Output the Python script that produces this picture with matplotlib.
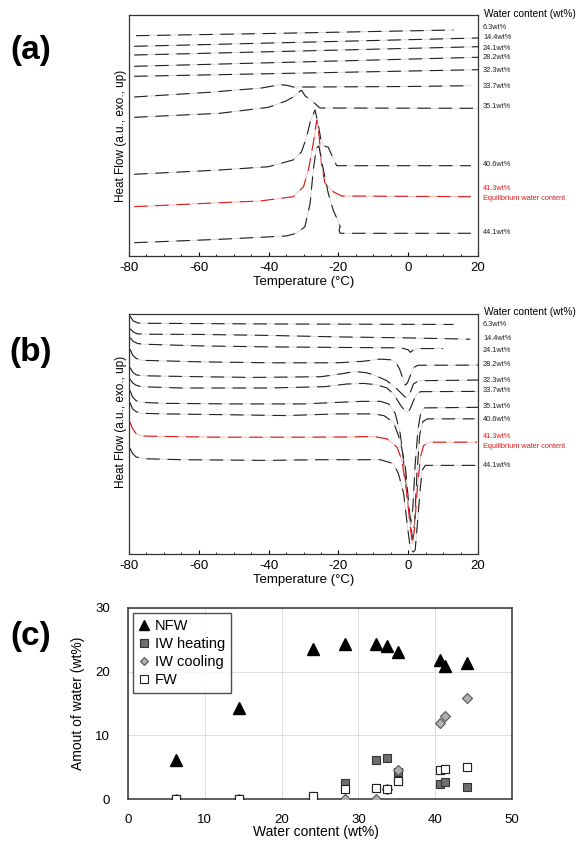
import matplotlib
matplotlib.use("Agg")
import matplotlib.pyplot as plt
from matplotlib.ticker import MultipleLocator

plt.rcParams["font.family"] = ["Liberation Sans", "DejaVu Sans"]
plt.rcParams["axes.unicode_minus"] = False

# ---- panel (a): cooling thermograms, (temperature degC, heat flow a.u.) ----
cool_63 = [(-78.0, 220.3), (-40, 222.5), (13, 226)]
cool_144 = [(-78.5, 209.7), (20, 218)]
cool_241 = [(-78.5, 201), (20, 209.3)]
cool_282 = [(-78.5, 189.7), (20, 198.7)]
cool_323 = [(-78.5, 179.7), (20, 186.3)]
cool_337 = [(-78.5, 159), (-57, 163.7), (-42, 168), (-38, 170.5), (-36.4, 171.3),
            (-34.5, 170.5), (-33, 169), (-28, 169), (0, 169.5), (18, 170.3)]
cool_351 = [(-78.5, 138.7), (-54, 142.7), (-40, 148.7), (-35, 155), (-32.5, 160),
            (-31, 165), (-30.5, 165.5), (-29.6, 160.3), (-27.2, 154), (-25.3, 148),
            (20, 147.7)]
cool_406 = [(-78.5, 81.7), (-54, 86), (-40, 89.3), (-33, 96), (-30.6, 104),
            (-29.2, 118), (-28, 135), (-26.7, 146), (-25.8, 132), (-25, 116),
            (-24, 110), (-22.9, 108.7), (-21.8, 100), (-20.5, 90.3), (18, 90.3)]
cool_413 = [(-78.5, 49.3), (-54, 53.3), (-42.5, 55), (-32.9, 59.3), (-30, 69.3),
            (-28.6, 86), (-27.2, 112.7), (-26.2, 136), (-25.5, 119.3), (-24.8, 89.3),
            (-23.8, 72.7), (-21.5, 64.3), (-19.1, 60), (18, 59.3)]
cool_441 = [(-78.5, 13.3), (-54, 16.7), (-35, 20), (-32, 22.7), (-29.6, 29.3),
            (-28.1, 52.7), (-27.2, 86), (-26.3, 108), (-25.6, 110), (-24.3, 86),
            (-22.9, 62.7), (-21.5, 46), (-20, 34.3), (-19.5, 29.3), (-19.8, 26),
            (-19.5, 22.7), (18, 22.7)]

# ---- panel (b): heating thermograms ----
heat_63 = [(-79.7, 239), (-78.8, 234), (-77.5, 232), (-76, 231.7), (-40, 231), (13, 230.5)]
heat_144 = [(-79.7, 226.3), (-78.8, 223), (-77.5, 221), (-75, 220.7), (-60, 220.5),
            (-40, 219.5), (-20, 218), (0, 217), (17.8, 215.7)]
heat_241 = [(-79.7, 217.3), (-78.8, 213.5), (-77.5, 211.3), (-76, 210.7), (-60, 209),
            (-40, 208), (-15, 207.3), (-2, 207), (0, 205), (0.6, 202.5), (1.5, 205),
            (2.5, 206.3), (10, 206.3)]
heat_282 = [(-79.7, 205.7), (-79, 200), (-78, 196.5), (-76.5, 194.5), (-60, 193),
            (-40, 192), (-20, 192), (-13, 193.5), (-8, 195.7), (-5, 195), (-3.5, 192),
            (-2.5, 186), (-1.5, 176), (-0.8, 169.5), (-0.2, 172), (0.8, 181),
            (1.7, 187.5), (2.8, 189.5), (20, 189.7)]
heat_323 = [(-79.7, 187.3), (-79, 183), (-78, 180), (-76.5, 179), (-65, 178.3),
            (-45, 177.3), (-25, 178), (-19, 181), (-15.2, 183.3), (-12, 182),
            (-9.9, 180), (-6.1, 174), (-3.2, 165.7), (-1.3, 159), (-0.5, 156.7),
            (0.6, 162.3), (1.5, 170.7), (3, 174), (20, 174.7)]
heat_337 = [(-79.7, 175.7), (-79, 172), (-78, 169.5), (-76.5, 168), (-65, 166.7),
            (-40, 166.7), (-24, 168), (-17.6, 170.7), (-12.8, 171.3), (-9, 170),
            (-6.1, 166.7), (-4.2, 160.7), (-2.3, 150), (-1, 144), (-0.2, 142),
            (0.6, 146), (1.5, 154), (2.5, 160.5), (3.5, 163), (20, 163.3)]
heat_351 = [(-79.7, 164), (-79, 158), (-78, 154), (-76.5, 152.3), (-70, 151.3),
            (-50, 150.7), (-30, 150.7), (-20, 152.3), (-13, 153.3), (-8, 153.3),
            (-5.6, 150.7), (-3.7, 141), (-2.3, 121), (-1.2, 90), (-0.2, 55), (0.7, 30),
            (1.3, 45), (2, 90), (2.8, 125), (3.6, 142), (4.5, 146.7), (20, 147.3)]
heat_406 = [(-79.7, 152), (-79, 146), (-78, 143), (-76.5, 141.3), (-70, 140.7),
            (-55, 140), (-35, 139), (-20, 140.7), (-10, 140.7), (-7, 139),
            (-4.2, 132.3), (-2.3, 114), (-0.8, 87), (0.3, 45), (1.2, 15), (1.8, 30),
            (2.5, 80), (3.3, 120), (4.2, 133), (5.5, 135.7), (19, 135.7)]
heat_413 = [(-79.7, 132.3), (-79, 126), (-78, 121), (-76.5, 118.5), (-70, 118),
            (-55, 117.3), (-30, 117.3), (-18, 117.5), (-10, 118), (-6.1, 115.7),
            (-3.2, 107.3), (-1.8, 94), (-0.4, 60.7), (0.6, 27.3), (1.2, 10), (1.8, 25),
            (2.5, 60.7), (3.5, 97.3), (4.4, 109), (6.3, 112.3), (19.7, 112.3)]
heat_441 = [(-79.7, 106), (-79, 101), (-78, 97.5), (-76, 95.7), (-65, 94.7), (-40, 94),
            (-25, 94.7), (-8, 94.7), (-4.2, 90.7), (-2.8, 80.7), (-1.3, 60.7),
            (-0.2, 27.3), (0.6, 6), (1.4, 2), (2, 4), (2.8, 37.3), (3.5, 67.3),
            (4, 84), (4.9, 89), (19.7, 89)]

sample_labels = ["6.3wt%", "14.4wt%", "24.1wt%", "28.2wt%", "32.3wt%",
                 "33.7wt%", "35.1wt%", "40.6wt%", "41.3wt%", "44.1wt%"]
cool_traces = [cool_63, cool_144, cool_241, cool_282, cool_323,
               cool_337, cool_351, cool_406, cool_413, cool_441]
heat_traces = [heat_63, heat_144, heat_241, heat_282, heat_323,
               heat_337, heat_351, heat_406, heat_413, heat_441]
# label heights (pixels from top of figure)
cool_label_y = [27.3, 37.3, 48.3, 57.3, 70, 86.7, 106.7, 165, 189, 232.3]
heat_label_y = [325, 339, 350, 365, 380, 390.7, 406.7, 420, 436.7, 465.7]
equilibrium = "41.3wt%"

# ---- panel (c) ----
water_content = [6.3, 14.4, 24.1, 28.2, 32.3, 33.7, 35.1, 40.6, 41.3, 44.1]
nfw = [6.2, 14.3, 23.6, 24.3, 24.3, 24.1, 23.1, 21.8, 20.9, 21.3]
iw_heating = [0, 0, 0, 2.5, 6.2, 6.5, 4.3, 2.4, 2.6, 1.9]
iw_cooling = [0, 0, 0, 0, 0, 1.6, 4.6, 11.9, 13.1, 15.8]
fw = [0, 0, 0.5, 1.5, 1.8, 1.57, 2.9, 4.5, 4.7, 5.1]

W, H = 587, 849
fig = plt.figure(figsize=(W / 100, H / 100), dpi=100)


def px_axes(left, top, right, bottom):
    return fig.add_axes([left / W, 1 - bottom / H, (right - left) / W, (bottom - top) / H])


def draw_trace(ax, pts, red=False):
    t = [p[0] for p in pts]
    v = [p[1] for p in pts]
    light = "#f3b3b3" if red else "#d4d4d4"
    dark = "#e01b1b" if red else "#222222"
    ax.plot(t, v, color=light, lw=0.6, solid_capstyle="butt")
    ax.plot(t, v, color=dark, lw=0.8, dashes=(12, 7))


def thermogram(ax, traces, label_y, top_px, ylabel_y):
    for lab, pts in zip(sample_labels, traces):
        draw_trace(ax, pts, red=(lab == equilibrium))
    ax.set_xlim(-80, 20)
    ax.set_ylim(0, 241)
    ax.set_yticks([])
    ax.xaxis.set_major_locator(MultipleLocator(20))
    ax.xaxis.set_minor_locator(MultipleLocator(5))
    ax.tick_params(axis="x", which="major", direction="in", length=3, labelsize=9.5, pad=4.5)
    ax.tick_params(axis="x", which="minor", direction="in", length=1.5)
    for s in ax.spines.values():
        s.set_linewidth(0.9)
        s.set_color("#333333")
    ax.set_xlabel("Temperature (\u00b0C)", fontsize=9.5)
    ax.xaxis.set_label_coords(0.5, -0.082)
    ax.xaxis.label.set_va("top")
    ax.set_ylabel("Heat Flow (a.u., exo., up)", fontsize=8.5)
    ax.yaxis.set_label_coords(-0.005, ylabel_y)
    fig.text(484 / W, 1 - top_px / H, "Water content (wt%)", fontsize=7.3,
             va="center", ha="left")
    for lab, y in zip(sample_labels, label_y):
        col = "#e01b1b" if lab == equilibrium else "#222222"
        fig.text(483 / W, 1 - y / H, lab, fontsize=5.3, va="center", ha="left", color=col)
        if lab == equilibrium:
            fig.text(483 / W, 1 - (y + 10) / H, "Equilibrium water content",
                     fontsize=5.3, va="center", ha="left", color=col)


ax_a = px_axes(129, 15, 478, 256)
thermogram(ax_a, cool_traces, cool_label_y, 14, 0.5)
ax_b = px_axes(129, 314, 478, 554)
thermogram(ax_b, heat_traces, heat_label_y, 312, 0.55)

ax_c = px_axes(128, 608, 512, 799)
ax_c.set_xlim(0, 50)
ax_c.set_ylim(0, 30)
ax_c.set_xticks([0, 10, 20, 30, 40, 50])
ax_c.set_yticks([0, 10, 20, 30])
ax_c.grid(True, color="#d8d8d8", lw=0.6)
ax_c.set_axisbelow(True)
ax_c.tick_params(length=0, labelsize=9.5, pad=11)
ax_c.tick_params(axis="y", pad=13)
for s in ax_c.spines.values():
    s.set_linewidth(1.1)
    s.set_color("#333333")
ax_c.plot(water_content, fw, "s", ms=6, mfc="white", mec="#222222", mew=0.8,
          label="FW", zorder=3)
ax_c.plot(water_content, iw_heating, "s", ms=6, mfc="#6e6e6e", mec="#333333", mew=0.8,
          label="IW heating", zorder=3)
ax_c.plot(water_content, iw_cooling, "D", ms=5, mfc="#b0b0b0", mec="#555555", mew=0.8,
          label="IW cooling", zorder=4)
ax_c.plot(water_content, fw, "s", ms=6, mfc="white", mec="#222222", mew=0.8, zorder=5)
ax_c.plot(water_content, nfw, "^", ms=8.5, color="black", label="NFW", zorder=6)
handles, labels = ax_c.get_legend_handles_labels()
order = [labels.index(k) for k in ["NFW", "IW heating", "IW cooling", "FW"]]
leg = ax_c.legend([handles[i] for i in order], [labels[i] for i in order],
                  loc="upper left", bbox_to_anchor=(0.014, 0.975), fontsize=10.5,
                  frameon=True, fancybox=False, edgecolor="#222222",
                  handlelength=0.6, handletextpad=0.45, labelspacing=0.28,
                  borderpad=0.4, borderaxespad=0, markerscale=0.85)
leg.get_frame().set_linewidth(1.0)
ax_c.set_xlabel("Water content (wt%)", fontsize=10)
ax_c.xaxis.set_label_coords(0.49, -0.135)
ax_c.xaxis.label.set_va("top")
ax_c.set_ylabel("Amout of water (wt%)", fontsize=10)
ax_c.yaxis.set_label_coords(-0.112, 0.5)

for lab, yy in [("(a)", 51), ("(b)", 352), ("(c)", 637)]:
    fig.text(31 / W, 1 - yy / H, lab, fontsize=24, fontweight="bold",
             ha="center", va="center")

fig.savefig("out.png", dpi=100)
